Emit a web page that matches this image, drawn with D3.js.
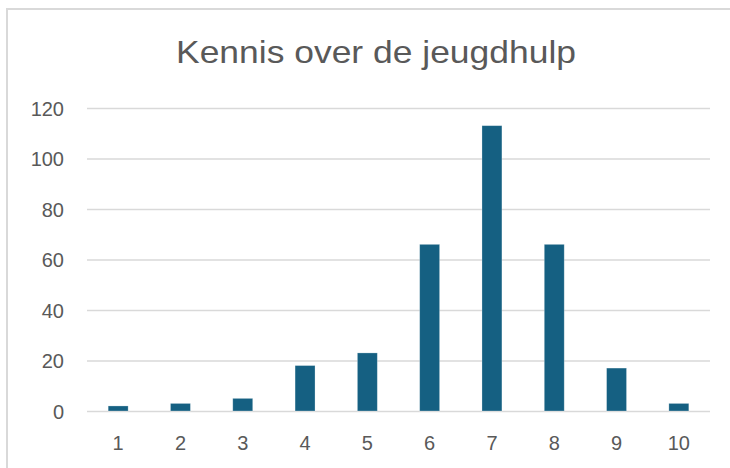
<!DOCTYPE html>
<html>
<head>
<meta charset="utf-8">
<script src="https://cdn.jsdelivr.net/npm/d3@7"></script>
<style>
  body { margin: 0; background: #fff; }
  svg { display: block; font-family: "Liberation Sans", Arial, sans-serif; }
</style>
</head>
<body>
<script>
var categories = ["1", "2", "3", "4", "5", "6", "7", "8", "9", "10"];
var values = [2, 3, 5, 18, 23, 66, 113, 66, 17, 3];
var yTicks = [0, 20, 40, 60, 80, 100, 120];
var title = "Kennis over de jeugdhulp";

var width = 730, height = 468;
var svg = d3.select("body").append("svg").attr("width", width).attr("height", height);

// chart border (only left and top edges visible in the crop)
svg.append("line").attr("x1", 7).attr("y1", 9).attr("x2", 7).attr("y2", height)
  .attr("stroke", "#d9d9d9").attr("stroke-width", 2);
svg.append("line").attr("x1", 6).attr("y1", 9).attr("x2", width).attr("y2", 9)
  .attr("stroke", "#d9d9d9").attr("stroke-width", 2);

var x = d3.scaleBand().domain(categories).range([87, 710])
  .paddingInner(0.68).paddingOuter(0.34);
var y = d3.scaleLinear().domain([0, 120]).range([411, 108]);

// gridlines
svg.append("g").attr("class", "grid")
  .attr("transform", "translate(87,0)")
  .call(d3.axisLeft(y).tickValues(yTicks).tickSize(-623).tickFormat(""))
  .call(function (g) { g.select(".domain").remove(); })
  .selectAll("line").attr("stroke", "#d9d9d9").attr("stroke-width", 1.5);

// y labels
svg.append("g")
  .attr("transform", "translate(64,0)")
  .call(d3.axisLeft(y).tickValues(yTicks).tickSize(0).tickPadding(0))
  .call(function (g) { g.select(".domain").remove(); })
  .selectAll("text")
  .attr("fill", "#595959")
  .attr("font-size", "20px")
  .attr("font-family", "Liberation Sans, Arial, sans-serif")
  .attr("dy", "0.36em");

// bars
svg.selectAll("rect.bar").data(values).enter().append("rect")
  .attr("class", "bar")
  .attr("x", function (d, i) { return x(categories[i]); })
  .attr("width", x.bandwidth())
  .attr("y", function (d) { return y(d); })
  .attr("height", function (d) { return y(0) - y(d); })
  .attr("fill", "#156082")
  .attr("stroke", "#ffffff")
  .attr("stroke-opacity", 0.35)
  .attr("stroke-width", 0.75);

// x labels
svg.append("g")
  .attr("transform", "translate(0,411)")
  .call(d3.axisBottom(x).tickSize(0).tickPadding(0))
  .call(function (g) { g.select(".domain").remove(); })
  .selectAll("text")
  .attr("fill", "#595959")
  .attr("font-size", "20px")
  .attr("font-family", "Liberation Sans, Arial, sans-serif")
  .attr("y", 39)
  .attr("dy", 0);

// title
svg.append("text")
  .attr("x", 376)
  .attr("y", 63)
  .attr("text-anchor", "middle")
  .attr("fill", "#595959")
  .attr("font-size", "32px")
  .attr("textLength", 400)
  .attr("lengthAdjust", "spacingAndGlyphs")
  .text(title);
</script>
</body>
</html>
